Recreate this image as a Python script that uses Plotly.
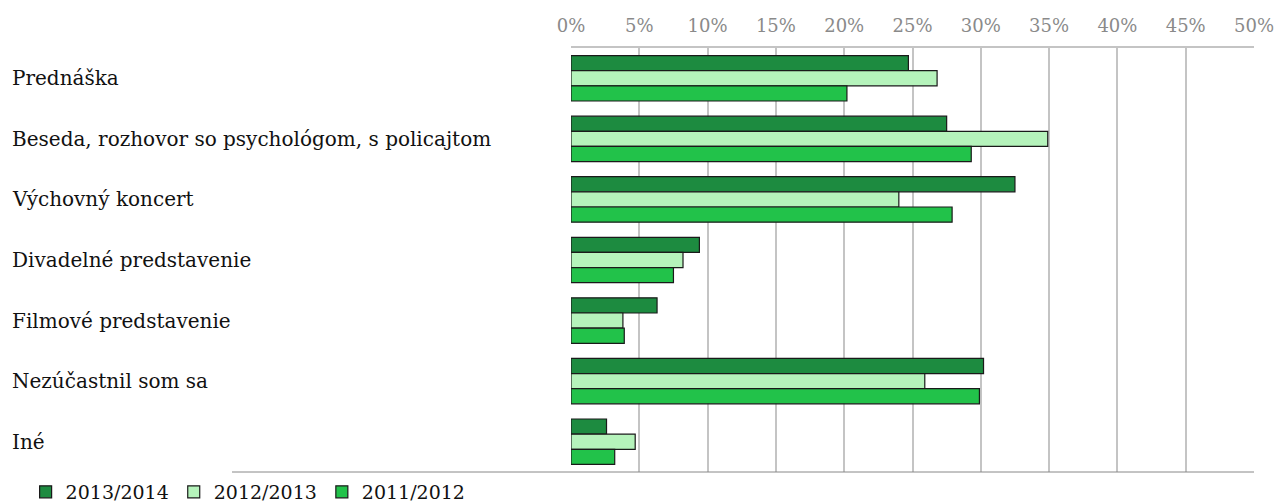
import plotly.graph_objects as go

# survey answers, share of respondents in %
categories = [
    "Prednáška",
    "Beseda, rozhovor so psychológom, s policajtom",
    "Výchovný koncert",
    "Divadelné predstavenie",
    "Filmové predstavenie",
    "Nezúčastnil som sa",
    "Iné",
]
years = ["2013/2014", "2012/2013", "2011/2012"]
vals_2013_2014 = [24.7, 27.5, 32.5, 9.4, 6.3, 30.2, 2.6]
vals_2012_2013 = [26.8, 34.9, 24.0, 8.2, 3.8, 25.9, 4.7]
vals_2011_2012 = [20.2, 29.3, 27.9, 7.5, 3.9, 29.9, 3.2]
tick_vals = [0, 5, 10, 15, 20, 25, 30, 35, 40, 45, 50]
tick_text = [f"{v}%" for v in tick_vals]

COLORS = ["#1d8b40", "#b5f3bb", "#22c24a"]
FONT = "DejaVu Serif, Liberation Serif, serif"

fig = go.Figure()
for name, vals, color in zip(years, [vals_2013_2014, vals_2012_2013, vals_2011_2012], COLORS):
    fig.add_trace(
        go.Bar(
            y=categories,
            x=vals,
            name=name,
            orientation="h",
            marker=dict(color=color, line=dict(color="#1a1a1a", width=1.2)),
        )
    )

# left-aligned category labels
for cat in categories:
    fig.add_annotation(
        x=-0.821, xref="paper", y=cat, yref="y",
        text=cat, showarrow=False, xanchor="left", yanchor="middle",
        font=dict(family=FONT, size=20, color="#111"),
    )

# long bottom rule that reaches under the labels
fig.add_shape(
    type="line", xref="paper", yref="paper",
    x0=-0.4963, x1=1, y0=0, y1=0,
    line=dict(color="#888", width=1),
)

fig.update_layout(
    width=1274,
    height=504,
    barmode="group",
    bargap=0.25,
    bargroupgap=0,
    paper_bgcolor="white",
    plot_bgcolor="white",
    margin=dict(l=571, r=20, t=48, b=32, autoexpand=False),
    font=dict(family=FONT, size=18, color="#111"),
    xaxis=dict(
        side="top",
        range=[0, 50],
        tickvals=tick_vals,
        ticktext=tick_text,
        tickfont=dict(family=FONT, size=18, color="#8a8a8a"),
        ticklabelstandoff=7,
        ticklabeloverflow="allow",
        showgrid=True,
        gridcolor="#c4c4c4",
        gridwidth=1.5,
        showline=True,
        linecolor="#c4c4c4",
        linewidth=1.5,
        zeroline=False,
        ticks="",
        automargin=False,
        fixedrange=True,
    ),
    yaxis=dict(
        autorange="reversed",
        showticklabels=False,
        showgrid=False,
        zeroline=False,
        showline=False,
        ticks="",
        automargin=False,
    ),
    legend=dict(
        orientation="h",
        x=-0.7985,
        xanchor="left",
        y=-0.047,
        yanchor="middle",
        font=dict(family=FONT, size=19, color="#111"),
        traceorder="normal",
        itemwidth=30,
        bgcolor="rgba(0,0,0,0)",
    ),
    showlegend=True,
)

# drop the default page margin so the figure sits at the window corner
fig.write_html(
    "out.html",
    config={"displayModeBar": False},
    post_script="document.body.style.margin='0px';",
)
